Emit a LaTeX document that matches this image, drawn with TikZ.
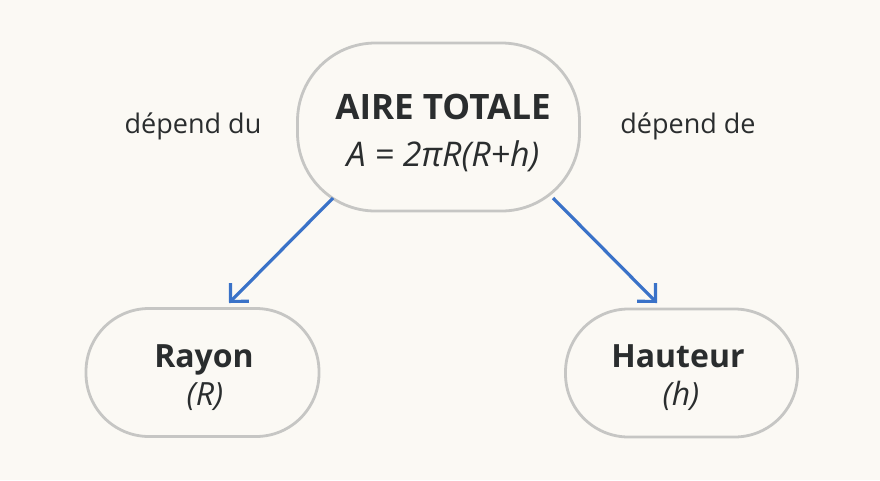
\documentclass[tikz,border=0pt]{standalone}
\usepackage{fontspec}
\setmainfont{Open Sans}
\usetikzlibrary{arrows.meta}
\definecolor{bg}{HTML}{FBF9F4}
\definecolor{edge}{HTML}{C6C6C4}
\definecolor{ink}{HTML}{2A2D2E}
\definecolor{arr}{HTML}{3A72C8}
\tikzset{
  box/.style={draw=edge, line width=2.8pt, fill=bg, rounded corners=#1, inner sep=0pt},
  conn/.style={draw=arr, line width=3.2pt, -{Straight Barb[length=13pt,width=26pt,line width=3.2pt]}},
  txt/.style={text=ink, anchor=base, inner sep=0pt},
  lbl/.style={txt, font=\fontsize{27}{30}\selectfont}
}
\begin{document}
\begin{tikzpicture}[x=1pt,y=-1pt]
\useasboundingbox[fill=bg] (0,0) rectangle (880,480);
\node[box=78pt, minimum width=282pt, minimum height=168pt] (top) at (438.5,127) {};
\node[box=63pt, minimum width=233pt, minimum height=128pt] (ray) at (202.5,372.5) {};
\node[box=63pt, minimum width=232pt, minimum height=128pt] (hau) at (681.5,373) {};
\node[txt, font=\fontsize{35}{40}\selectfont\bfseries] (t1) at (443,119) {AIRE TOTALE};
\node[txt, font=\fontsize{34}{40}\selectfont\itshape] (t2) at (443,166) {A = 2πR(R+h)};
\node[txt, font=\fontsize{32}{38}\selectfont\bfseries] (r1) at (204,367) {Rayon};
\node[txt, font=\fontsize{32}{38}\selectfont\itshape] (r2) at (205,405) {(R)};
\node[txt, font=\fontsize{32}{38}\selectfont\bfseries] (h1) at (678,367) {Hauteur};
\node[txt, font=\fontsize{32}{38}\selectfont\itshape] (h2) at (681,405) {(h)};
\node[lbl] (l1) at (193,133) {dépend du};
\node[lbl] (l2) at (688,133) {dépend de};
\coordinate (a1) at (333,198);
\coordinate (b1) at (229,303);
\coordinate (a2) at (553,198);
\coordinate (b2) at (657,303);
\draw[conn] (a1) -- (b1);
\draw[conn] (a2) -- (b2);
\end{tikzpicture}
\end{document}
